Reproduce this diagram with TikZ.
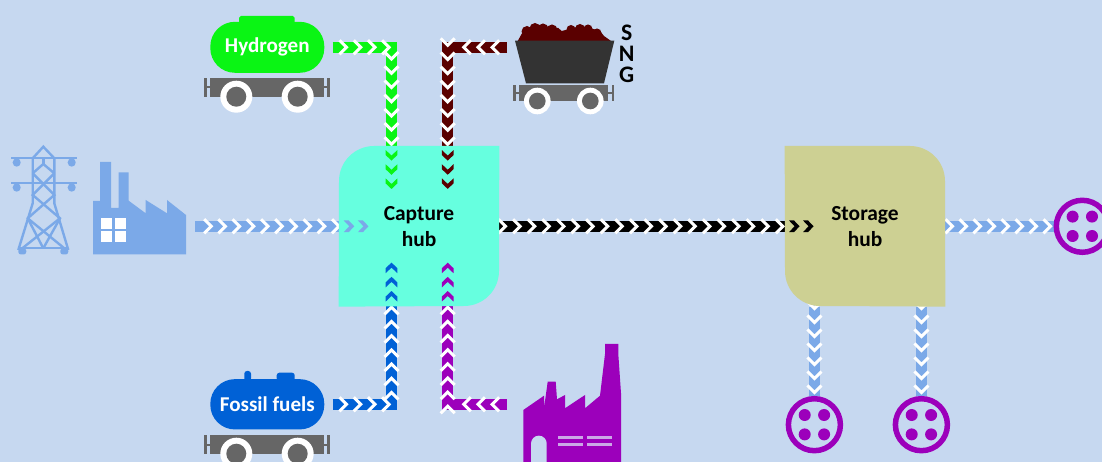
\documentclass[tikz,border=0pt]{standalone}
\usepackage{fontspec}
\setmainfont{Carlito}
\usetikzlibrary{backgrounds,decorations.markings}

\definecolor{skyback}{HTML}{C6D8F0}
\definecolor{captureteal}{HTML}{66FFDF}
\definecolor{storekhaki}{HTML}{CDD093}
\definecolor{hgreen}{HTML}{0AF514}
\definecolor{sngred}{HTML}{5A0000}
\definecolor{fossilblue}{HTML}{0061D6}
\definecolor{plantpurple}{HTML}{9C00BB}
\definecolor{powerblue}{HTML}{7BA9E8}
\definecolor{cartgrey}{HTML}{666666}
\definecolor{cartdark}{HTML}{333333}

\newcommand{\pxu}{0.569pt}
\pgfdeclarelayer{hubs}
\pgfsetlayers{background,hubs,main}

\tikzset{
  pipe/.style n args={3}{draw=#1, line width=11*\pxu,
    postaction={decorate, decoration={markings,
      mark=between positions #2*\pxu and 1 step #3*\pxu with
        {\draw[white, line width=3*\pxu, shorten <=0pt] (-9.1,7) -- (-2.1,0) -- (-9.1,-7);}}}},
  hubtips/.style n args={3}{decorate, decoration={markings,
      mark=between positions #2*\pxu and 1 step #3*\pxu with
        {\fill[#1] (0,0) -- (-5.5,5.8) -- (-10.5,5.8) -- (-5,0) -- (-10.5,-5.8) -- (-5.5,-5.8) -- cycle;}}},
  hublabel/.style={minimum width=3.2cm, minimum height=3.2cm, inner sep=0pt, align=center,
    font=\bfseries\fontsize{12.2}{14.8}\selectfont},
  tank/.style={fill=#1, text=white, rounded corners=14pt, minimum width=2.28cm, inner sep=0pt,
    font=\fontsize{12}{14}\selectfont\bfseries},
  socket/.style={circle, draw=plantpurple, fill=skyback, line width=5.5*\pxu, inner sep=0pt,
    minimum size=1.04cm, path picture={
      \foreach \dx in {-9.7,9.7} \foreach \dy in {-9.7,9.7}
        \fill[plantpurple] ([shift={(\dx,\dy)}]path picture bounding box.center) circle (6);}},
  pics/wagon/.style n args={4}{code={
    \fill[cartgrey] (-#1,0) rectangle (#1,#4);
    \foreach \sgn in {-1,1} {
      \fill[cartgrey] (\sgn*#1,0.5*#4-1) rectangle (\sgn*#1+\sgn*5,0.5*#4+1);
      \fill[cartgrey] (\sgn*#1+\sgn*3.3,0) rectangle (\sgn*#1+\sgn*6,#4);
      \fill[white] (\sgn*#2,#4) circle (#3);
      \fill[cartgrey] (\sgn*#2,#4) circle (0.625*#3);
    }}}
}

\begin{document}
\begin{tikzpicture}[x=0.02cm,y=-0.02cm]
  \useasboundingbox (0,0) rectangle (1102,462);

  % Specification of nodes (position, etc.)
  \node[hublabel] (Capture) at (419,226.3) {Capture\\hub};
  \node[hublabel] (Storage) at (865,226.3) {Storage\\hub};
  \node[tank=hgreen, minimum height=1.02cm] (Hydrogen) at (267.3,47.3) {Hydrogen};
  \node[tank=fossilblue, minimum height=1.006cm] (Fossil) at (267.3,404.3) {Fossil fuels};
  \node[font=\bfseries\fontsize{13.5}{12}\selectfont, align=center, inner sep=0pt] (SNG) at (626.7,54) {S\\N\\G};
  \node[socket] (SocketA) at (814.4,424.7) {};
  \node[socket] (SocketB) at (921.4,424.7) {};
  \node[socket] (SocketC) at (1082.3,226.3) {};

  % free ends of the pipes
  \coordinate (powerout) at (195,226.3);
  \coordinate (powerin) at (371,226.3);
  \coordinate (cartout) at (507,47.3);
  \coordinate (plantout) at (507,404.3);
  \coordinate (h2in) at (391.5,190);
  \coordinate (sngin) at (447.7,191);
  \coordinate (fossilin) at (391.5,261);
  \coordinate (plantin) at (447.7,261);
  \coordinate (storein) at (815,226.3);

  % the pipes run behind the hubs
  \begin{scope}[on background layer]
    \fill[skyback] (0,0) rectangle (1102,462);
    \draw[pipe={hgreen}{24}{14.2}, shorten <=8*\pxu] (Hydrogen.east) -| (h2in);
    \draw[pipe={fossilblue}{24}{14.2}, shorten <=8*\pxu] (Fossil.east) -| (fossilin);
    \draw[pipe={sngred}{17}{14.15}] (cartout) -| (sngin);
    \draw[pipe={plantpurple}{17}{14.15}] (plantout) -| (plantin);
    \draw[pipe={powerblue}{18.3}{14.2}] (powerout) -- (powerin);
    \draw[pipe={black}{8.3}{14.6}] (Capture.east) -- (storein);
    \draw[pipe={powerblue}{9.3}{14}] (Storage.east) -- (SocketC.west);
    \draw[pipe={powerblue}{4}{14}] (SocketA.north |- Storage.south) -- (SocketA.north);
    \draw[pipe={powerblue}{4}{14}] (SocketB.north |- Storage.south) -- (SocketB.north);
  \end{scope}

  \begin{pgfonlayer}{hubs}
    \fill[captureteal] (374,146) -- (Capture.north east) -- (499,271) .. controls (499,290.3) and (483.3,306) .. (464,306)
      -- (Capture.south west) -- (339,181) .. controls (339,161.7) and (354.7,146) .. (374,146) -- cycle;
    \fill[storekhaki] (Storage.north west) -- (910,146) .. controls (929.3,146) and (945,161.7) .. (945,181)
      -- (Storage.south east) -- (820,306) .. controls (800.7,306) and (785,290.3) .. (785,271) -- cycle;
  \end{pgfonlayer}

  % chevrons that stay visible on top of the hubs
  \path[hubtips={hgreen}{180.2}{14.2}] (Hydrogen.east) -| (h2in);
  \path[hubtips={fossilblue}{180.2}{14.2}] (Fossil.east) -| (fossilin);
  \path[hubtips={sngred}{172.65}{14.15}] (cartout) -| (sngin);
  \path[hubtips={plantpurple}{172.65}{14.15}] (plantout) -| (plantin);
  \path[hubtips={powerblue}{159.3}{14.2}] (powerout) -- (powerin);
  \path[hubtips={black}{300.3}{14}] (Capture.east) -- (storein);

  % tanks on their wagons
  \fill[hgreen, rounded corners=1pt] (239,16) rectangle (294.7,24);
  \fill[fossilblue, rounded corners=1.5pt] (276.7,372.7) rectangle (294.7,381);
  \fill[fossilblue, rounded corners=1.5pt] (244.3,371) rectangle (251,381);
  \pic at (267,78.3) {wagon={57}{30.7}{16}{18.4}};
  \pic at (267,435.3) {wagon={57}{30.7}{16}{18.4}};
  \pic at (563.8,85) {wagon={44.5}{26.5}{13.3}{16}};

  % coal cart
  \fill[sngred] (517.7,41) -- (522,33.3) -- (526.7,28) -- (543.3,26) -- (558.3,28) -- (561.7,31)
    -- (576.7,27) -- (586.7,27) -- (600,31) -- (604,36) -- (611,41) -- cycle;
  \foreach \cx/\cy/\cr in {527/31.5/5.5, 535/28.5/5.5, 543/29/5.5, 552/30/5.5, 571/29.5/4.5, 580/29/5, 588/29/4.5, 597/33/4.5}
    \fill[sngred] (\cx,\cy) circle (\cr);
  \fill[cartdark] (515,40.7) -- (614.3,40.7) -- (604,83.3) -- (526,83.3) -- cycle;

  % power line
  \begin{scope}[draw=powerblue, line width=2.4*\pxu]
    \draw (11,158.3) -- (76.7,158.3);
    \draw (11,183.3) -- (76.7,183.3);
    \draw (32.7,158.3) -- (43.3,146.7) -- (54.3,158.3);
    \draw (18.3,250) -- (32.7,203.3) -- (32.7,158.3);
    \draw (68.3,250) -- (54.3,203.3) -- (54.3,158.3);
    \draw (43.3,158.3) -- (43.3,164);
    \draw (32.7,173.3) -- (43.3,164) -- (54.3,173.3);
    \draw (32.7,173.3) -- (54.3,195) -- (27.7,218.3) -- (43.3,248.3);
    \draw (54.3,173.3) -- (32.7,195) -- (60,218.3) -- (43.3,248.3);
    \draw (27.7,218.3) -- (64.3,248.3);
    \draw (60,218.3) -- (22.3,248.3);
    \draw (18.3,248.3) -- (68.3,248.3);
    \foreach \ix in {16.7,71.7} \foreach \iy in {158.3,183.3}
      \fill[powerblue, rounded corners=2.3pt] (\ix-4,\iy) rectangle (\ix+4,\iy+8.4);
    \foreach \ix in {22.3,64.3}
      \fill[powerblue, rounded corners=1.5pt] (\ix-4,248.3) rectangle (\ix+4,254.5);
  \end{scope}

  % factory on the left
  \fill[powerblue] (93,254.3) -- (186,254.3) -- (186,215) -- (167,200) -- (167,213.3) -- (145.7,200)
    -- (145.7,213.3) -- (128.7,200.7) -- (128.7,172.3) -- (118.7,172.3) -- (118.7,208) -- (111,208)
    -- (111,162) -- (100,162) -- (100,201) -- (93,201) -- cycle;
  \foreach \wx in {101.3,114.5} \foreach \wy in {218,231.3}
    \fill[white] (\wx,\wy) rectangle (\wx+11,\wy+11.2);

  % plant at the bottom
  \fill[plantpurple] (523.3,462) -- (523.3,410) -- (544,395.7) -- (544,408.3) -- (547.7,381.7) -- (555.7,381.7)
    -- (557,399.3) -- (565,395) -- (565,408.3) -- (585,395) -- (585,408.3) -- (600,395.7) -- (605,354)
    -- (605,344) -- (618.3,344) -- (618.3,354) -- (621,393.3) -- (621,462) -- cycle;
  \fill[skyback] (531,462) -- (531,443.5) arc (180:0:7.85 and -7.85) -- (546.7,462) -- cycle;
  \foreach \lx/\lw in {558.3/24.4, 587.3/25} \foreach \ly in {436,442.8}
    \fill[skyback!60!plantpurple!70!white] (\lx,\ly) rectangle (\lx+\lw,\ly+3.4);
\end{tikzpicture}
\end{document}
